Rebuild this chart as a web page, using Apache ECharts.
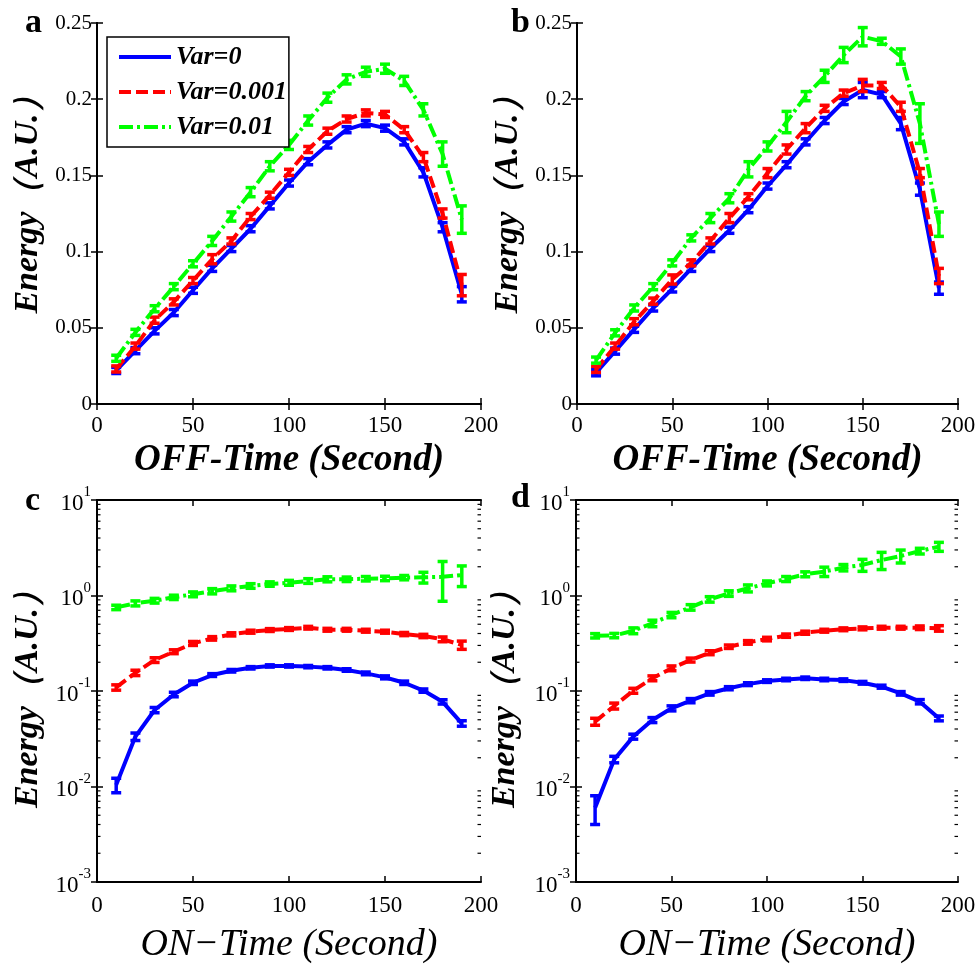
<!DOCTYPE html>
<html><head><meta charset="utf-8">
<script src="https://cdn.jsdelivr.net/npm/echarts@6/dist/echarts.min.js"></script>
<style>html,body{margin:0;padding:0;background:#fff}#c{width:980px;height:967px}</style>
</head><body><div id="c"></div>
<script>
// ---------- data ----------
const timeSec = [10,20,30,40,50,60,70,80,90,100,110,120,130,140,150,160,170,180,190];
const seriesNames = ['Var=0','Var=0.001','Var=0.01'];

// panel a (OFF-Time)
const aVar0    = [0.022,0.035,0.048,0.060,0.0746,0.089,0.102,0.115,0.130,0.145,0.159,0.170,0.180,0.184,0.181,0.172,0.152,0.116,0.072];
const aVar001  = [0.023,0.038,0.055,0.067,0.081,0.095,0.107,0.123,0.137,0.152,0.167,0.179,0.187,0.191,0.190,0.180,0.162,0.125,0.078];
const aVar01   = [0.030,0.047,0.0625,0.077,0.092,0.107,0.123,0.139,0.156,0.170,0.186,0.201,0.213,0.218,0.220,0.212,0.193,0.164,0.121];
const aErr0    = [0.002,0.002,0.002,0.002,0.002,0.002,0.002,0.002,0.002,0.002,0.002,0.002,0.002,0.002,0.002,0.002,0.003,0.003,0.005];
const aErr001  = [0.002,0.002,0.002,0.002,0.002,0.003,0.002,0.002,0.002,0.002,0.002,0.002,0.002,0.002,0.002,0.002,0.003,0.003,0.007];
const aErr01   = [0.002,0.002,0.002,0.002,0.002,0.003,0.003,0.003,0.003,0.003,0.003,0.003,0.003,0.003,0.003,0.003,0.004,0.008,0.009];

// panel b (OFF-Time)
const bVar0    = [0.0205,0.0347,0.049,0.063,0.0755,0.089,0.102,0.114,0.1275,0.143,0.157,0.172,0.186,0.1985,0.206,0.203,0.184,0.141,0.076];
const bVar001  = [0.0227,0.038,0.054,0.0675,0.0817,0.0926,0.107,0.122,0.136,0.1515,0.167,0.181,0.194,0.204,0.209,0.209,0.195,0.1515,0.084];
const bVar01   = [0.0288,0.0467,0.063,0.077,0.0926,0.109,0.122,0.135,0.154,0.169,0.185,0.202,0.215,0.229,0.241,0.238,0.228,0.184,0.118];
const bErr0    = [0.002,0.002,0.002,0.002,0.002,0.002,0.002,0.002,0.002,0.002,0.002,0.002,0.002,0.002,0.005,0.002,0.004,0.004,0.004];
const bErr001  = [0.002,0.002,0.002,0.002,0.003,0.002,0.002,0.003,0.002,0.003,0.003,0.003,0.002,0.002,0.004,0.002,0.003,0.003,0.005];
const bErr01   = [0.002,0.002,0.002,0.002,0.002,0.002,0.003,0.003,0.005,0.003,0.007,0.003,0.004,0.005,0.006,0.002,0.005,0.013,0.008];

// panel c (ON-Time, log)
const cVar0    = [0.0104,0.0333,0.0632,0.092,0.122,0.147,0.163,0.175,0.183,0.183,0.180,0.175,0.166,0.153,0.139,0.122,0.101,0.077,0.0458];
const cVar001  = [0.109,0.155,0.211,0.258,0.315,0.356,0.392,0.418,0.435,0.446,0.460,0.438,0.438,0.428,0.418,0.395,0.377,0.348,0.303];
const cVar01   = [0.751,0.828,0.883,0.957,1.03,1.11,1.19,1.26,1.32,1.36,1.42,1.48,1.48,1.50,1.51,1.54,1.55,1.57,1.64];
const cErr0    = [0.0018,0.003,0.004,0.005,0.005,0.005,0.005,0.005,0.005,0.005,0.005,0.005,0.005,0.005,0.005,0.005,0.004,0.004,0.003];
const cErr001  = [0.007,0.01,0.012,0.012,0.015,0.015,0.015,0.015,0.015,0.015,0.015,0.015,0.015,0.015,0.015,0.015,0.015,0.02,0.03];
const cErr01   = [0.04,0.05,0.05,0.05,0.06,0.07,0.07,0.07,0.07,0.08,0.08,0.09,0.08,0.08,0.08,0.08,0.2,0.7,0.4];

// panel d (ON-Time, log)
const dVar0    = [0.006,0.0192,0.0333,0.0497,0.0659,0.0793,0.0946,0.107,0.118,0.127,0.132,0.136,0.132,0.130,0.122,0.111,0.0946,0.0773,0.0517];
const dVar001  = [0.0478,0.0697,0.1007,0.136,0.173,0.211,0.252,0.291,0.323,0.35,0.38,0.408,0.428,0.443,0.453,0.46,0.46,0.46,0.453];
const dVar01   = [0.379,0.381,0.428,0.511,0.625,0.752,0.912,1.05,1.19,1.34,1.49,1.67,1.78,1.96,2.09,2.35,2.59,2.92,3.25];
const dErr0    = [0.002,0.0015,0.002,0.003,0.004,0.004,0.004,0.004,0.004,0.004,0.004,0.004,0.004,0.004,0.004,0.004,0.004,0.004,0.003];
const dErr001  = [0.004,0.005,0.006,0.008,0.01,0.01,0.012,0.012,0.014,0.015,0.015,0.015,0.015,0.015,0.016,0.016,0.016,0.02,0.03];
const dErr01   = [0.02,0.02,0.03,0.04,0.04,0.05,0.06,0.07,0.1,0.08,0.09,0.1,0.2,0.15,0.3,0.48,0.4,0.2,0.35];

const logMinorTicks = [0.002,0.003,0.004,0.005,0.006,0.007,0.008,0.009,
  0.02,0.03,0.04,0.05,0.06,0.07,0.08,0.09,0.2,0.3,0.4,0.5,0.6,0.7,0.8,0.9,2,3,4,5,6,7,8,9];
const panelLetters = ['a','b','c','d'];
const xTitles = ['OFF-Time (Second)','OFF-Time (Second)','ON\u2212Time (Second)','ON\u2212Time (Second)'];
const yTitle = 'Energy\uFF08A.U.\uFF09';

// ---------- chart ----------
const SERIF = '"Liberation Serif","Times New Roman",serif';
const colors = ['#0000ff','#ff0000','#00ff00'];
const lineTypes = ['solid',[12,5],[14,4,3,4]];
const panels = [
  {vals:[aVar0,aVar001,aVar01], errs:[aErr0,aErr001,aErr01], log:false},
  {vals:[bVar0,bVar001,bVar01], errs:[bErr0,bErr001,bErr01], log:false},
  {vals:[cVar0,cVar001,cVar01], errs:[cErr0,cErr001,cErr01], log:true},
  {vals:[dVar0,dVar001,dVar01], errs:[dErr0,dErr001,dErr01], log:true}
];
const grids = [
  {left:97, top:23, width:384, height:381},
  {left:577, top:23, width:381, height:381},
  {left:97, top:500, width:384, height:382},
  {left:576, top:500, width:382, height:382}
];
const yNameGap = [52, 52, 52, 54];

const axisLine = {show:true, lineStyle:{color:'#000', width:2}};
const axisTick = {show:true, inside:true, length:6, lineStyle:{color:'#000', width:1.5}};

const xAxis = [], yAxis = [], series = [], title = [];
grids.forEach((g, i) => {
  const top = i < 2;
  xAxis.push({
    gridIndex:i, type:'value', min:0, max:200, interval:50, position:'bottom',
    axisLine, axisTick, splitLine:{show:false},
    axisLabel:{color:'#000', fontFamily:SERIF, fontSize:23, margin: top ? 10 : 12},
    name: xTitles[i], nameLocation:'middle', nameGap: top ? 38 : 44,
    nameTextStyle:{color:'#000', fontFamily:SERIF, fontSize: top ? 37 : 38, fontStyle:'italic', fontWeight: top ? 'bold' : 'normal'}
  });
  xAxis.push({
    gridIndex:i, type:'value', min:0, max:200, interval:50, position:'top',
    axisLine, axisTick, splitLine:{show:false}, axisLabel:{show:false}
  });
  const yCommon = panels[i].log
    ? {type:'log', logBase:10, min:0.001, max:10}
    : {type:'value', min:0, max:0.25, interval:0.05};
  yAxis.push(Object.assign({
    gridIndex:i, position:'left', axisLine, axisTick, splitLine:{show:false}, minorTick:{show:false},
    axisLabel: panels[i].log ? {
      formatter: v => '{b|10}{s|' + Math.round(Math.log10(v)) + '}',
      margin:6,
      rich:{
        b:{fontFamily:SERIF, fontSize:23, color:'#000', lineHeight:30, verticalAlign:'bottom'},
        s:{fontFamily:SERIF, fontSize:15, color:'#000', lineHeight:30, verticalAlign:'top'}
      }
    } : {color:'#000', fontFamily:SERIF, fontSize:21, margin:5},
    name: yTitle, nameLocation:'middle', nameGap: yNameGap[i], nameRotate:90,
    nameTextStyle:{color:'#000', fontFamily:SERIF, fontSize:34, fontStyle:'italic', fontWeight:'bold',
      padding: top ? [0,0,0,34] : 0}
  }, yCommon));
  yAxis.push(Object.assign({
    gridIndex:i, position:'right', axisLine, axisTick, splitLine:{show:false}, axisLabel:{show:false}
  }, yCommon));

  title.push({
    text: panelLetters[i], padding:0,
    left: [25, 511, 25, 511][i], top: [6, 6, 484, 481][i],
    textStyle:{fontFamily:SERIF, fontSize:34, fontWeight:'bold', color:'#000'}
  });

  panels[i].vals.forEach((vals, k) => {
    series.push({
      type:'line', name: seriesNames[k], xAxisIndex:2*i, yAxisIndex:2*i,
      data: timeSec.map((x, j) => [x, vals[j]]),
      symbol:'none', showSymbol:false, smooth:false, z: 2 + k,
      lineStyle:{color:colors[k], width:4, type:lineTypes[k], join:'round'},
      itemStyle:{color:colors[k]},
      emphasis:{disabled:true}, silent:true, animation:false
    });
    const errs = panels[i].errs[k];
    series.push({
      type:'custom', xAxisIndex:2*i, yAxisIndex:2*i, z: 2 + k,
      data: timeSec.map((x, j) => [x, vals[j] - errs[j], vals[j] + errs[j]]),
      encode:{x:0, y:[1,2]},
      renderItem:(params, api) => {
        const x = api.value(0);
        const lo = api.coord([x, api.value(1)]);
        const hi = api.coord([x, api.value(2)]);
        const w = 5;
        const st = {stroke:colors[k], lineWidth:3.5, fill:null};
        return {type:'group', children:[
          {type:'line', shape:{x1:lo[0], y1:lo[1], x2:hi[0], y2:hi[1]}, style:st},
          {type:'line', shape:{x1:lo[0]-w, y1:lo[1], x2:lo[0]+w, y2:lo[1]}, style:st},
          {type:'line', shape:{x1:hi[0]-w, y1:hi[1], x2:hi[0]+w, y2:hi[1]}, style:st}
        ]};
      },
      silent:true, animation:false
    });
  });

  if (panels[i].log) {
    series.push({
      type:'custom', xAxisIndex:2*i, yAxisIndex:2*i, z:1,
      data: logMinorTicks.map(v => [0, v]),
      renderItem:(params, api) => {
        const v = api.value(1);
        const l = api.coord([0, v]);
        const r = api.coord([200, v]);
        const st = {stroke:'#000', lineWidth:1.2};
        return {type:'group', children:[
          {type:'line', shape:{x1:l[0], y1:l[1], x2:l[0]+3.5, y2:l[1]}, style:st},
          {type:'line', shape:{x1:r[0], y1:r[1], x2:r[0]-3.5, y2:r[1]}, style:st}
        ]};
      },
      silent:true, animation:false
    });
  }
});

const option = {
  backgroundColor:'#fff',
  animation:false,
  title,
  grid: grids.map(g => Object.assign({containLabel:false}, g)),
  xAxis, yAxis, series,
  legend:{
    data: seriesNames, orient:'vertical', left:107, top:37,
    padding:[6,2,6,10], itemGap:7, itemWidth:52, itemHeight:14,
    backgroundColor:'#fff', borderColor:'#000', borderWidth:1.5, borderRadius:0,
    itemStyle:{opacity:0},
    lineStyle:{width:4},
    textStyle:{fontFamily:SERIF, fontSize:26, fontStyle:'italic', fontWeight:'bold', color:'#000', lineHeight:28},
    selectedMode:false, z:10
  }
};
const chart = echarts.init(document.getElementById('c'), null, {renderer:'canvas'});
chart.setOption(option);
</script>
</body></html>
